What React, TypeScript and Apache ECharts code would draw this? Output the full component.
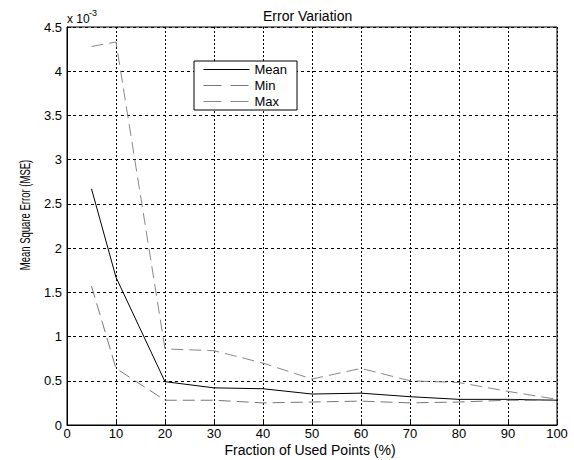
import React, { useEffect, useRef } from "react";
import * as echarts from "echarts";

// x: fraction of used points (%)
const fractions = [5, 10, 20, 30, 40, 50, 60, 70, 80, 90, 100];
// values in units of 1e-3
const meanErr = [2.67, 1.67, 0.49, 0.42, 0.41, 0.35, 0.36, 0.32, 0.29, 0.29, 0.28];
const minErr = [1.57, 0.64, 0.28, 0.28, 0.25, 0.26, 0.27, 0.25, 0.26, 0.28, 0.28];
const maxErr = [4.28, 4.33, 0.86, 0.84, 0.7, 0.52, 0.64, 0.5, 0.48, 0.38, 0.29];
const seriesNames = ["Mean", "Min", "Max"];

const FONT = "'Liberation Sans', Arial, sans-serif";

export default function App() {
  const ref = useRef<HTMLDivElement>(null);
  useEffect(() => {
    if (!ref.current) return;
    const chart = echarts.init(ref.current, undefined, { renderer: "svg" });
    const pair = (arr: number[]) => fractions.map((x, i) => [x, arr[i]]);
    chart.setOption({
      animation: false,
      backgroundColor: "#fff",
      textStyle: { fontFamily: FONT },
      grid: {
        left: 67,
        top: 27,
        right: 17,
        bottom: 35,
        show: true,
        borderColor: "#000",
        borderWidth: 1,
        backgroundColor: "transparent",
      },
      legend: {
        left: 194,
        top: 61,
        orient: "vertical",
        data: [
          { name: seriesNames[0], lineStyle: { width: 1, type: "solid" } },
          { name: seriesNames[1], lineStyle: { width: 1, type: [18, 9] } },
          { name: seriesNames[2], lineStyle: { width: 1, type: [18, 9] } },
        ],
        itemWidth: 46,
        itemHeight: 14,
        itemGap: 3,
        padding: [2, 10, 2, 9],
        backgroundColor: "#fff",
        borderColor: "#000",
        borderWidth: 1,
        borderRadius: 0,
        itemStyle: { opacity: 0 },
        lineStyle: { width: 1 },
        textStyle: { fontFamily: FONT, fontSize: 13, color: "#000" },
      },
      graphic: [
        {
          type: "text",
          left: 263,
          top: 9,
          style: { text: "Error Variation", font: `14px ${FONT}`, fill: "#000" },
        },
        {
          type: "text",
          x: 310,
          y: 443,
          style: {
            text: "Fraction of Used Points (%)",
            font: `14px ${FONT}`,
            fill: "#000",
            align: "center",
            verticalAlign: "top",
          },
        },
        {
          type: "text",
          x: 25,
          y: 215,
          rotation: Math.PI / 2,
          scaleX: 0.68,
          style: {
            text: "Mean Square Error (MSE)",
            font: `14px ${FONT}`,
            fill: "#000",
            align: "center",
            verticalAlign: "middle",
          },
        },
        {
          type: "text",
          x: 67,
          y: 13,
          style: { text: "x 10", font: `12px ${FONT}`, fill: "#000" },
        },
        {
          type: "text",
          x: 89,
          y: 8,
          style: { text: "-3", font: `9px ${FONT}`, fill: "#000" },
        },
      ],
      xAxis: {
        type: "value",
        min: 0,
        max: 100,
        interval: 10,
        axisLine: { show: true, lineStyle: { color: "#000", width: 1 } },
        axisTick: { show: true, inside: true, length: 4, lineStyle: { color: "#000" } },
        axisLabel: { color: "#000", fontSize: 13, fontFamily: FONT, margin: 2 },
        splitLine: { show: true, lineStyle: { color: "#000", type: [2, 2], width: 1 } },
      },
      yAxis: {
        type: "value",
        min: 0,
        max: 4.5,
        interval: 0.5,
        axisLine: { show: true, lineStyle: { color: "#000", width: 1 } },
        axisTick: { show: true, inside: true, length: 4, lineStyle: { color: "#000" } },
        axisLabel: {
          color: "#000",
          fontSize: 13,
          fontFamily: FONT,
          margin: 5,
          formatter: (v: number) => String(Math.round(v * 10) / 10),
        },
        splitLine: { show: true, lineStyle: { color: "#000", type: [3, 3], width: 1 } },
      },
      series: [
        {
          name: "Mean",
          type: "line",
          data: pair(meanErr),
          symbol: "none",
          lineStyle: { color: "#000", width: 1, type: "solid" },
          itemStyle: { color: "#000" },
        },
        {
          name: "Min",
          type: "line",
          data: pair(minErr),
          symbol: "none",
          lineStyle: { color: "#777", width: 1, type: [12, 6] },
          itemStyle: { color: "#777" },
        },
        {
          name: "Max",
          type: "line",
          data: pair(maxErr),
          symbol: "none",
          lineStyle: { color: "#888", width: 1, type: [12, 6] },
          itemStyle: { color: "#888" },
        },
      ],
    });
    return () => chart.dispose();
  }, []);
  return <div ref={ref} style={{ width: 574, height: 460, position: "absolute", left: 0, top: 0 }} />;
}
